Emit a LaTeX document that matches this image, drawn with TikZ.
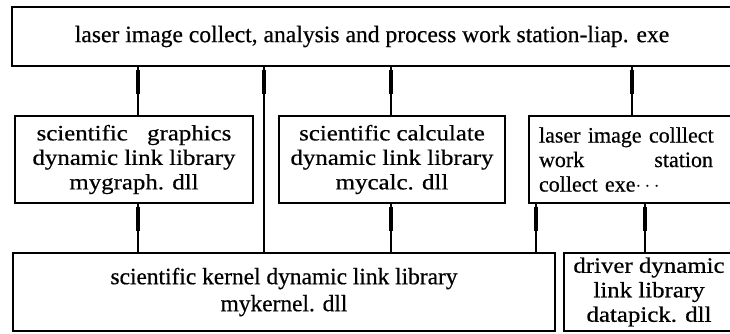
\documentclass[tikz,border=0pt]{standalone}
\usepackage{fontspec}
\setmainfont{Liberation Serif}
\newfontfamily\boxfont[FakeStretch=1.13, FakeBold=0.5]{Liberation Serif}
\newfontfamily\plainfont[FakeBold=0.5]{Liberation Serif}
\begin{document}
\begin{tikzpicture}[x=1pt,y=-1pt,
  box/.style={draw, line width=2pt, inner sep=0pt, anchor=north west,
    align=center, font=\boxfont\fontsize{22}{24.5}\selectfont},
  link/.style={line width=1.3pt},
  linkhead/.style={line width=3.4pt}]
\useasboundingbox (0,0) rectangle (730,333);
\clip (0,0) rectangle (730,333);

% modules
\node[box, minimum width=720pt, minimum height=59pt,
  font=\plainfont\fontsize{23.6}{26}\selectfont] (top) at (11,6)
  {laser image collect, analysis and process work station-liap. exe};
\node[box, minimum width=238pt, minimum height=87pt] (gfx) at (14,115)
  {scientific\hspace{0.6em} graphics\\dynamic link library\\mygraph. dll};
\node[box, minimum width=226pt, minimum height=87pt] (calc) at (278,115)
  {scientific calculate\\dynamic link library\\mycalc. dll};
\node[box, minimum width=206pt, minimum height=87pt, text width=186pt,
  align=left, inner xsep=10pt,
  font=\plainfont\fontsize{22}{24.5}\selectfont] (coll) at (528,115)
  {laser image colllect\\\makebox[174pt][s]{work\hfill station}\\collect exe$\cdots$};
\node[box, minimum width=542pt, minimum height=78pt,
  font=\plainfont\fontsize{23.4}{27}\selectfont] (kern) at (12,252)
  {scientific kernel dynamic link library\\mykernel. dll};
\node[box, minimum width=170pt, minimum height=78pt] (drv) at (563,252)
  {driver dynamic\\link library\\datapick. dll};

% connector columns
\coordinate (xa) at (138,0);
\coordinate (xb) at (264,0);
\coordinate (xc) at (391,0);
\coordinate (xd) at (536,0);
\coordinate (xe) at (632,0);
\coordinate (xf) at (645,0);

% connectors, each with a heavy stroke just below its upper end
\foreach \up/\low/\colx in {top/gfx/xa, top/kern/xb, top/calc/xc, top/coll/xe,
                            gfx/kern/xa, calc/kern/xc, coll/kern/xd, coll/drv/xf}{
  \draw[link] (\up.south -| \colx) -- (\low.north -| \colx);
  \path (\up.south -| \colx) ++(0,3) coordinate (hs) ++(0,24) coordinate (he);
  \draw[linkhead] (hs) -- (he);
}
\end{tikzpicture}
\end{document}
